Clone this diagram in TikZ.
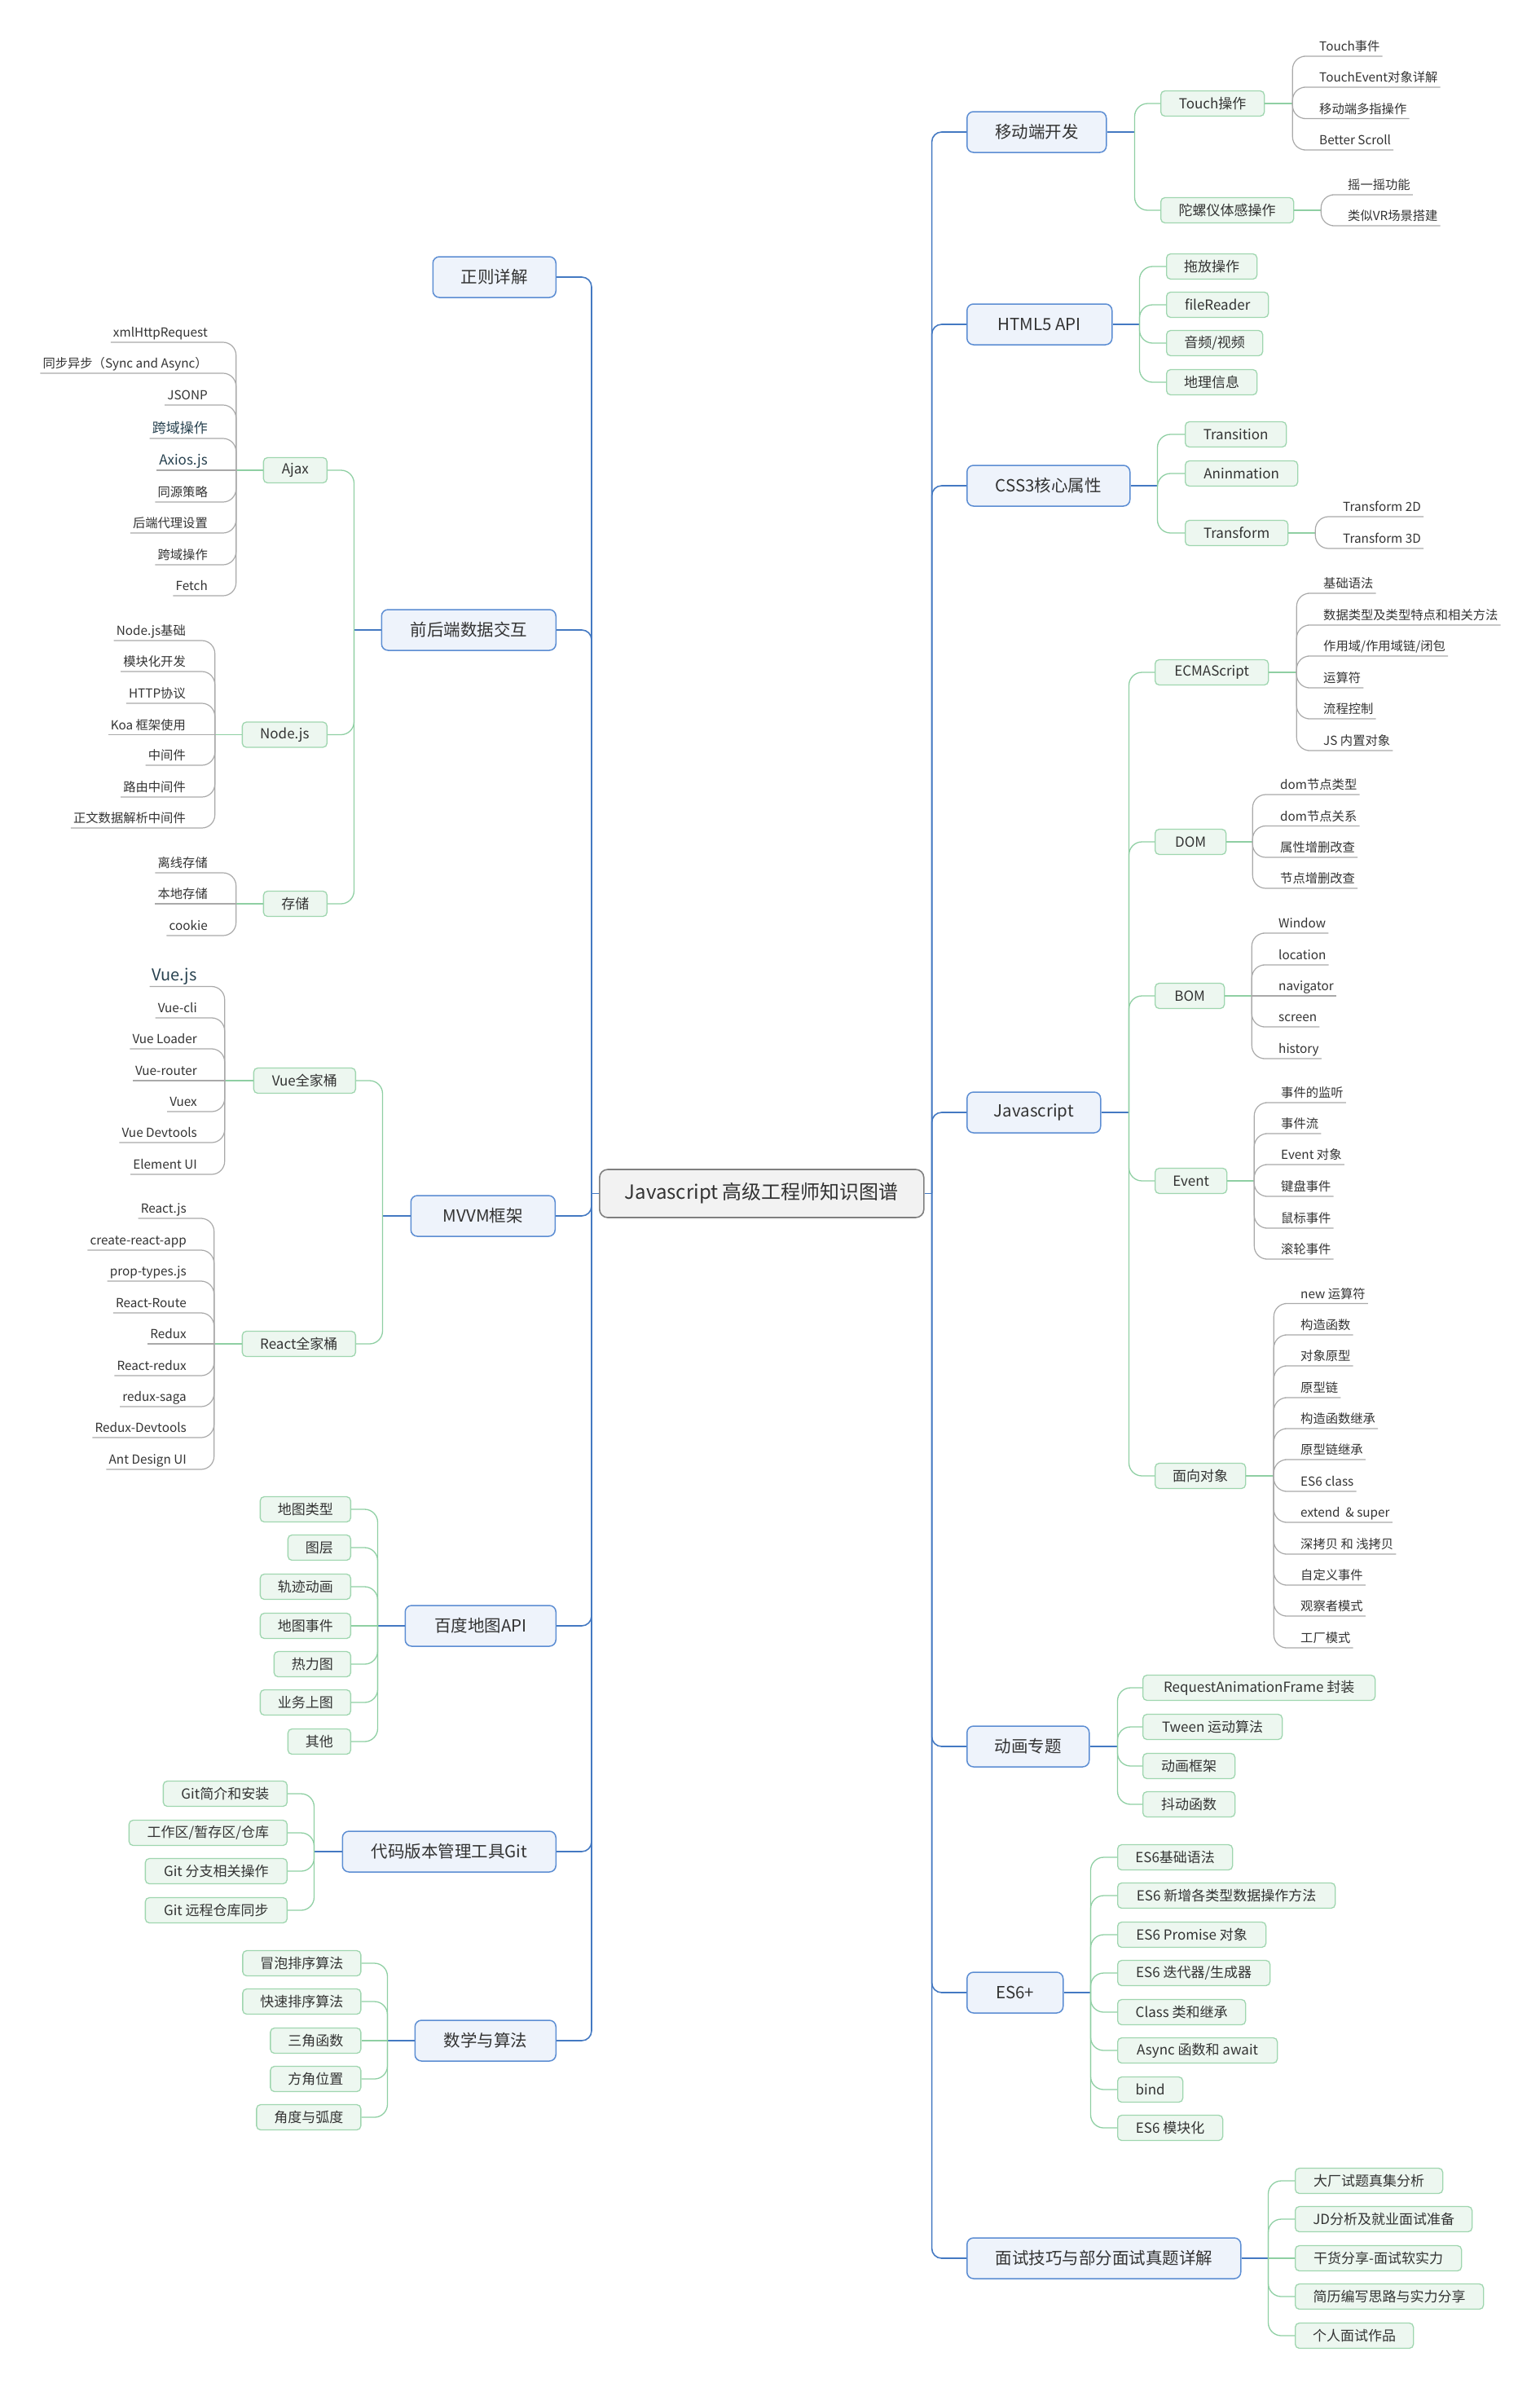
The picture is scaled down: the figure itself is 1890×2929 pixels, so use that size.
\documentclass[tikz,border=0pt]{standalone}
\usepackage{fontspec}
\setmainfont{Noto Sans CJK SC}
\usetikzlibrary{calc}
\definecolor{bline}{HTML}{4479C2}
\definecolor{mainborder}{HTML}{5C8DD3}
\definecolor{mainfill}{HTML}{EEF3FB}
\definecolor{gline}{HTML}{8FCFA3}
\definecolor{subborder}{HTML}{9FD6AF}
\definecolor{subfill}{HTML}{EDF7F0}
\definecolor{lline}{HTML}{A9A9A9}
\definecolor{rootfill}{HTML}{F2F2F2}
\definecolor{rootborder}{HTML}{7F7F7F}
\definecolor{textc}{HTML}{333333}
\definecolor{darkleaf}{HTML}{27414F}
\tikzset{
  rootnode/.style={draw=rootborder, fill=rootfill, line width=1.6pt, rounded corners=10pt, minimum height=59pt, inner xsep=0pt, text=textc, font=\fontsize{24}{28}\selectfont},
  mainnode/.style={draw=mainborder, fill=mainfill, line width=1.5pt, rounded corners=8pt, minimum height=50pt, inner xsep=0pt, text=textc, font=\fontsize{20.5}{24}\selectfont},
  subnode/.style={draw=subborder, fill=subfill, line width=1.3pt, rounded corners=5pt, minimum height=31pt, inner xsep=0pt, text=textc, font=\fontsize{17}{20}\selectfont},
  leaf/.style={inner xsep=3pt, inner ysep=3pt, text=textc, font=\fontsize{15.3}{18}\selectfont, text height=11.5pt, text depth=3pt},
  bigleaf/.style={text=darkleaf, font=\fontsize{17}{20}\selectfont, text height=13pt},
  hugeleaf/.style={text=darkleaf, font=\fontsize{20}{24}\selectfont, text height=15pt, text depth=4pt},
  bcon/.style={draw=bline, line width=1.6pt, rounded corners=12pt},
  gcon/.style={draw=gline, line width=1.3pt, rounded corners=16pt},
  lcon/.style={draw=lline, line width=1.2pt, rounded corners=16pt},
}
% right leaf: junction, name, y, text
\newcommand\lfR[5][]{\node[leaf,#1,anchor=south west] (#3) at (\lx,#4) {#5};
  \draw[lcon] (#2) |- (#3.south west) -- (#3.south east);}
\newcommand\lfRs[5][]{\node[leaf,#1,anchor=south west] (#3) at (\lx,#4) {#5};
  \draw[lcon] (#2) -- (#3.south west) -- (#3.south east);}
\newcommand\lfL[5][]{\node[leaf,#1,anchor=south east] (#3) at (\lx,#4) {#5};
  \draw[lcon] (#2) |- (#3.south east) -- (#3.south west);}
\newcommand\lfLs[5][]{\node[leaf,#1,anchor=south east] (#3) at (\lx,#4) {#5};
  \draw[lcon] (#2) -- (#3.south east) -- (#3.south west);}
% green sub boxes: junction, name, width, y, text
\newcommand\sbR[5]{\node[subnode,minimum width=#3pt,anchor=west] (#2) at (\sx,#4) {#5};
  \draw[gcon] (#1) |- (#2.west);}
\newcommand\sbRs[5]{\node[subnode,minimum width=#3pt,anchor=west] (#2) at (\sx,#4) {#5};
  \draw[gcon] (#1) -- (#2.west);}
\newcommand\sbL[5]{\node[subnode,minimum width=#3pt,anchor=east] (#2) at (\sx,#4) {#5};
  \draw[gcon] (#1) |- (#2.east);}
\newcommand\sbLs[5]{\node[subnode,minimum width=#3pt,anchor=east] (#2) at (\sx,#4) {#5};
  \draw[gcon] (#1) -- (#2.east);}
\begin{document}
\begin{tikzpicture}[x=1pt,y=-1pt]
\useasboundingbox (0,0) rectangle (1890,2929);

% ---------- root ----------
\node[rootnode, minimum width=398pt, anchor=west] (root) at (735,1464.5) {Javascript 高级工程师知识图谱};
\coordinate (rj) at ([xshift=9pt]root.east);
\coordinate (lj) at ([xshift=-9pt]root.west);
\draw[bcon] (root.east) -- (rj);
\draw[bcon] (root.west) -- (lj);

% ---------- right main branches ----------
\node[mainnode, minimum width=171pt, anchor=west] (mob) at (1186,162) {移动端开发};
\node[mainnode, minimum width=178pt, anchor=west] (h5) at (1186,398) {HTML5 API};
\node[mainnode, minimum width=200pt, anchor=west] (css) at (1186,596) {CSS3核心属性};
\node[mainnode, minimum width=164pt, anchor=west] (js) at (1186,1365) {Javascript};
\node[mainnode, minimum width=150pt, anchor=west] (anim) at (1186,2143) {动画专题};
\node[mainnode, minimum width=118pt, anchor=west] (es6) at (1186,2445) {ES6+};
\node[mainnode, minimum width=336pt, anchor=west] (iv) at (1186,2771) {面试技巧与部分面试真题详解};
\foreach \n in {mob,h5,css,js,anim,es6,iv} \draw[bcon] (rj) |- (\n.west);

% ---------- left main branches ----------
\node[mainnode, minimum width=151pt, anchor=east] (re) at (683,340) {正则详解};
\node[mainnode, minimum width=214pt, anchor=east] (fe) at (683,773) {前后端数据交互};
\node[mainnode, minimum width=177pt, anchor=east] (mvvm) at (682,1492) {MVVM框架};
\node[mainnode, minimum width=185pt, anchor=east] (bmap) at (683,1995) {百度地图API};
\node[mainnode, minimum width=262pt, anchor=east] (git) at (683,2272) {代码版本管理工具Git};
\node[mainnode, minimum width=173pt, anchor=east] (math) at (683,2504) {数学与算法};
\foreach \n in {re,fe,mvvm,bmap,git,math} \draw[bcon] (lj) |- (\n.east);

% ===== 移动端开发 =====
\coordinate (mobj) at ([xshift=34pt]mob.east);
\draw[bcon] (mob.east) -- (mobj);
\def\sx{1424}
\sbR{mobj}{touch}{127}{127}{Touch操作}
\sbR{mobj}{gyro}{163}{258}{陀螺仪体感操作}
\coordinate (touchj) at ([xshift=34pt]touch.east);
\draw[gcon] (touch.east) -- (touchj);
\def\lx{1616}
\lfR{touchj}{t1}{69}{Touch事件}
\lfR{touchj}{t2}{107}{TouchEvent对象详解}
\lfR{touchj}{t3}{145.5}{移动端多指操作}
\lfR{touchj}{t4}{184}{Better Scroll}
\coordinate (gyroj) at ([xshift=33pt]gyro.east);
\draw[gcon] (gyro.east) -- (gyroj);
\def\lx{1651}
\lfR{gyroj}{g1}{239}{摇一摇功能}
\lfR{gyroj}{g2}{277}{类似VR场景搭建}

% ===== HTML5 API =====
\coordinate (h5j) at ([xshift=33pt]h5.east);
\draw[bcon] (h5.east) -- (h5j);
\def\sx{1431}
\sbR{h5j}{drag}{111}{327}{拖放操作}
\sbR{h5j}{frd}{125}{374}{fileReader}
\sbR{h5j}{av}{118}{421}{音频/视频}
\sbR{h5j}{geo}{111}{469}{地理信息}

% ===== CSS3 =====
\coordinate (cssj) at ([xshift=33pt]css.east);
\draw[bcon] (css.east) -- (cssj);
\def\sx{1454}
\sbR{cssj}{trans}{124}{533}{Transition}
\sbR{cssj}{anin}{138}{581}{Aninmation}
\sbR{cssj}{tf}{126}{654}{Transform}
\coordinate (tfj) at ([xshift=33pt]tf.east);
\draw[gcon] (tf.east) -- (tfj);
\def\lx{1645}
\lfR{tfj}{tf1}{634}{Transform 2D}
\lfR{tfj}{tf2}{673}{Transform 3D}

% ===== Javascript =====
\coordinate (jsj) at ([xshift=34pt]js.east);
\draw[bcon] (js.east) -- (jsj);
\def\sx{1417}
\sbR{jsj}{ecma}{139}{825}{ECMAScript}
\sbR{jsj}{dom}{87}{1033}{DOM}
\sbR{jsj}{bom}{85}{1222}{BOM}
\sbR{jsj}{evt}{88}{1449}{Event}
\sbR{jsj}{oop}{111}{1811}{面向对象}

\coordinate (ecmaj) at ([xshift=34pt]ecma.east);
\draw[gcon] (ecma.east) -- (ecmaj);
\def\lx{1621}
\lfR{ecmaj}{e1}{728}{基础语法}
\lfR{ecmaj}{e2}{767}{数据类型及类型特点和相关方法}
\lfR{ecmaj}{e3}{805}{作用域/作用域链/闭包}
\lfR{ecmaj}{e4}{844}{运算符}
\lfR{ecmaj}{e5}{882}{流程控制}
\lfR{ecmaj}{e6}{921}{JS 内置对象}

\coordinate (domj) at ([xshift=32pt]dom.east);
\draw[gcon] (dom.east) -- (domj);
\def\lx{1568}
\lfR{domj}{d1}{975}{dom节点类型}
\lfR{domj}{d2}{1013.5}{dom节点关系}
\lfR{domj}{d3}{1052}{属性增删改查}
\lfR{domj}{d4}{1090}{节点增删改查}

\coordinate (bomj) at ([xshift=33pt]bom.east);
\draw[gcon] (bom.east) -- (bomj);
\def\lx{1566}
\lfR{bomj}{b1}{1145}{Window}
\lfR{bomj}{b2}{1184}{location}
\lfRs{bomj}{b3}{1222}{navigator}
\lfR{bomj}{b4}{1260}{screen}
\lfR{bomj}{b5}{1299}{history}

\coordinate (evtj) at ([xshift=33pt]evt.east);
\draw[gcon] (evt.east) -- (evtj);
\def\lx{1569}
\lfR{evtj}{v1}{1353}{事件的监听}
\lfR{evtj}{v2}{1391}{事件流}
\lfR{evtj}{v3}{1429}{Event 对象}
\lfR{evtj}{v4}{1468}{键盘事件}
\lfR{evtj}{v5}{1507}{鼠标事件}
\lfR{evtj}{v6}{1545}{滚轮事件}

\coordinate (oopj) at ([xshift=34pt]oop.east);
\draw[gcon] (oop.east) -- (oopj);
\def\lx{1593}
\lfR{oopj}{o1}{1599.5}{new 运算符}
\lfR{oopj}{o2}{1638}{构造函数}
\lfR{oopj}{o3}{1676}{对象原型}
\lfR{oopj}{o4}{1715}{原型链}
\lfR{oopj}{o5}{1753}{构造函数继承}
\lfR{oopj}{o6}{1791}{原型链继承}
\lfR{oopj}{o7}{1830}{ES6 class}
\lfR{oopj}{o8}{1868}{extend\ \ \& super}
\lfR{oopj}{o9}{1907}{深拷贝 和 浅拷贝}
\lfR{oopj}{o10}{1945}{自定义事件}
\lfR{oopj}{o11}{1983}{观察者模式}
\lfR{oopj}{o12}{2022}{工厂模式}

% ===== 动画专题 =====
\coordinate (animj) at ([xshift=34pt]anim.east);
\draw[bcon] (anim.east) -- (animj);
\def\sx{1402}
\sbR{animj}{raf}{285}{2071}{RequestAnimationFrame 封装}
\sbR{animj}{tween}{171}{2119}{Tween 运动算法}
\sbR{animj}{frame}{113}{2167}{动画框架}
\sbR{animj}{shake}{113}{2214}{抖动函数}

% ===== ES6+ =====
\coordinate (es6j) at ([xshift=33pt]es6.east);
\draw[bcon] (es6.east) -- (es6j);
\def\sx{1371}
\sbR{es6j}{s1}{141}{2279}{ES6基础语法}
\sbR{es6j}{s2}{267}{2326}{ES6 新增各类型数据操作方法}
\sbR{es6j}{s3}{182}{2374}{ES6 Promise 对象}
\sbR{es6j}{s4}{187}{2421}{ES6 迭代器/生成器}
\sbR{es6j}{s5}{157}{2469}{Class 类和继承}
\sbR{es6j}{s6}{196}{2516}{Async 函数和 await}
\sbR{es6j}{s7}{80}{2564}{bind}
\sbR{es6j}{s8}{129}{2611}{ES6 模块化}

% ===== 面试技巧 =====
\coordinate (ivj) at ([xshift=33pt]iv.east);
\draw[bcon] (iv.east) -- (ivj);
\def\sx{1589}
\sbR{ivj}{i1}{181}{2676}{大厂试题真集分析}
\sbR{ivj}{i2}{217}{2723}{JD分析及就业面试准备}
\sbRs{ivj}{i3}{204}{2771}{干货分享-面试软实力}
\sbR{ivj}{i4}{231}{2818}{简历编写思路与实力分享}
\sbR{ivj}{i5}{145}{2866}{个人面试作品}

% ===== 前后端数据交互 =====
\coordinate (fej) at ([xshift=-33pt]fe.west);
\draw[bcon] (fe.west) -- (fej);
\def\sx{402}
\sbL{fej}{ajax}{78}{577}{Ajax}
\sbL{fej}{node}{104}{901.5}{Node.js}
\sbL{fej}{store}{78}{1109}{存储}

\coordinate (ajaxj) at ([xshift=-33pt]ajax.west);
\draw[gcon] (ajax.west) -- (ajaxj);
\def\lx{258}
\lfL{ajaxj}{a1}{420}{xmlHttpRequest}
\lfL{ajaxj}{a2}{458}{同步异步（Sync and Async）}
\lfL{ajaxj}{a3}{497}{JSONP}
\lfL[bigleaf]{ajaxj}{a4}{538}{跨域操作}
\lfLs[bigleaf]{ajaxj}{a5}{577}{Axios.js}
\lfL{ajaxj}{a6}{616}{同源策略}
\lfL{ajaxj}{a7}{654}{后端代理设置}
\lfL{ajaxj}{a8}{693}{跨域操作}
\lfL{ajaxj}{a9}{731}{Fetch}

\coordinate (nodej) at ([xshift=-33pt]node.west);
\draw[gcon] (node.west) -- (nodej);
\def\lx{231}
\lfL{nodej}{n1}{786}{Node.js基础}
\lfL{nodej}{n2}{824}{模块化开发}
\lfL{nodej}{n3}{863}{HTTP协议}
\lfLs{nodej}{n4}{901.5}{Koa 框架使用}
\lfL{nodej}{n5}{939}{中间件}
\lfL{nodej}{n6}{978}{路由中间件}
\lfL{nodej}{n7}{1016}{正文数据解析中间件}

\coordinate (storej) at ([xshift=-33pt]store.west);
\draw[gcon] (store.west) -- (storej);
\def\lx{258}
\lfL{storej}{c1}{1071}{离线存储}
\lfLs{storej}{c2}{1109}{本地存储}
\lfL{storej}{c3}{1148}{cookie}

% ===== MVVM =====
\coordinate (mvvmj) at ([xshift=-34pt]mvvm.west);
\draw[bcon] (mvvm.west) -- (mvvmj);
\def\sx{437}
\sbL{mvvmj}{vue}{125}{1326}{Vue全家桶}
\sbL{mvvmj}{react}{139}{1649}{React全家桶}

\coordinate (vuej) at ([xshift=-35pt]vue.west);
\draw[gcon] (vue.west) -- (vuej);
\def\lx{245}
\lfL[hugeleaf]{vuej}{u1}{1210.5}{Vue.js}
\lfL{vuej}{u2}{1249}{Vue-cli}
\lfL{vuej}{u3}{1287}{Vue Loader}
\lfLs{vuej}{u4}{1326}{Vue-router}
\lfL{vuej}{u5}{1364}{Vuex}
\lfL{vuej}{u6}{1402}{Vue Devtools}
\lfL{vuej}{u7}{1441}{Element UI}

\coordinate (reactj) at ([xshift=-34pt]react.west);
\draw[gcon] (react.west) -- (reactj);
\def\lx{232}
\lfL{reactj}{r1}{1495}{React.js}
\lfL{reactj}{r2}{1534}{create-react-app}
\lfL{reactj}{r3}{1572}{prop-types.js}
\lfL{reactj}{r4}{1611}{React-Route}
\lfLs{reactj}{r5}{1649}{Redux}
\lfL{reactj}{r6}{1688}{React-redux}
\lfL{reactj}{r7}{1726}{redux-saga}
\lfL{reactj}{r8}{1764}{Redux-Devtools}
\lfL{reactj}{r9}{1803}{Ant Design UI}

% ===== 百度地图API =====
\coordinate (bmapj) at ([xshift=-33pt]bmap.west);
\draw[bcon] (bmap.west) -- (bmapj);
\def\sx{431}
\sbL{bmapj}{m1}{111}{1852}{地图类型}
\sbL{bmapj}{m2}{77}{1899}{图层}
\sbL{bmapj}{m3}{111}{1947}{轨迹动画}
\sbLs{bmapj}{m4}{111}{1995}{地图事件}
\sbL{bmapj}{m5}{94}{2042}{热力图}
\sbL{bmapj}{m6}{111}{2089}{业务上图}
\sbL{bmapj}{m7}{77}{2137}{其他}

% ===== Git =====
\coordinate (gitj) at ([xshift=-34pt]git.west);
\draw[bcon] (git.west) -- (gitj);
\def\sx{353}
\sbL{gitj}{k1}{152}{2201}{Git简介和安装}
\sbL{gitj}{k2}{194}{2249}{工作区/暂存区/仓库}
\sbL{gitj}{k3}{174}{2296}{Git 分支相关操作}
\sbL{gitj}{k4}{174}{2344}{Git 远程仓库同步}

% ===== 数学与算法 =====
\coordinate (mathj) at ([xshift=-33pt]math.west);
\draw[bcon] (math.west) -- (mathj);
\def\sx{443.5}
\sbL{mathj}{q1}{145}{2409}{冒泡排序算法}
\sbL{mathj}{q2}{145}{2456}{快速排序算法}
\sbLs{mathj}{q3}{111}{2504}{三角函数}
\sbL{mathj}{q4}{111}{2551}{方角位置}
\sbL{mathj}{q5}{128}{2598}{角度与弧度}
\end{tikzpicture}
\end{document}
